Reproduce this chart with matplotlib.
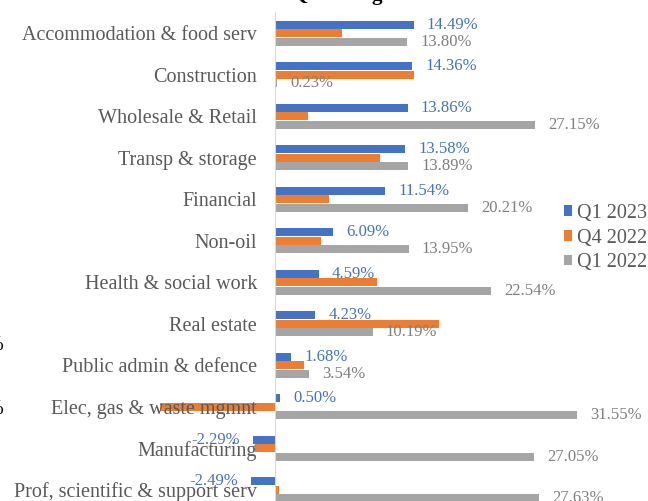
import matplotlib
matplotlib.use("Agg")
import matplotlib.pyplot as plt
import numpy as np

categories = ["Accommodation & food serv", "Construction", "Wholesale & Retail",
              "Transp & storage", "Financial", "Non-oil", "Health & social work",
              "Real estate", "Public admin & defence", "Elec, gas & waste mgmnt",
              "Manufacturing", "Prof, scientific & support serv"]
q1_2023 = [14.49, 14.36, 13.86, 13.58, 11.54, 6.09, 4.59, 4.23, 1.68, 0.50, -2.29, -2.49]
q4_2022 = [7.0, 14.5, 3.5, 11.0, 5.6, 4.8, 10.7, 17.1, 3.0, -12.0, -2.1, 0.4]
q1_2022 = [13.80, 0.23, 27.15, 13.89, 20.21, 13.95, 22.54, 10.19, 3.54, 31.55, 27.05, 27.63]
series_names = ["Q1 2023", "Q4 2022", "Q1 2022"]

plt.rcParams['font.family'] = ['Liberation Serif', 'DejaVu Serif']

W, H = 648, 501
fig = plt.figure(figsize=(W / 100, H / 100), dpi=100)
ax = fig.add_axes([0, 0, 1, 1])
ax.patch.set_alpha(0)

px_per_unit = 9.57
x0 = 275
ax.set_xlim(-x0 / px_per_unit, (W - x0) / px_per_unit)
sp = 41.5
c0 = 33.2
ax.set_ylim((H - c0) / sp, -c0 / sp)

y = np.arange(len(categories))
off = 0.205
h = 0.19
blue, orange, gray = "#4472C4", "#ED7D31", "#A5A5A5"
b1 = ax.barh(y - off, q1_2023, height=h, color=blue, label=series_names[0])
b2 = ax.barh(y, q4_2022, height=h, color=orange, label=series_names[1])
b3 = ax.barh(y + off, q1_2022, height=h, color=gray, label=series_names[2])

ax.bar_label(b1, labels=[f"{v:.2f}%" for v in q1_2023], padding=9.5,
             color=blue, fontsize=12)
ax.bar_label(b3, labels=[f"{v:.2f}%" for v in q1_2022], padding=9.5,
             color="#7F7F7F", fontsize=12)

for s in ["top", "right", "bottom"]:
    ax.spines[s].set_visible(False)
ax.spines["left"].set_position(("data", 0))
ax.spines["left"].set_color("#D9D9D9")
ax.spines["left"].set_bounds(-0.5, 11.5)
ax.set_xticks([])
ax.set_yticks(y)
ax.set_yticklabels(categories, fontsize=14.5, color="#595959")
ax.tick_params(axis="y", length=0, pad=13)

leg = fig.legend(handles=[b1, b2, b3], loc="center left",
                 bbox_to_anchor=(564 / W, 1 - 238 / H), frameon=False,
                 fontsize=14.5, handlelength=0.42, handleheight=0.42,
                 handletextpad=0.22, labelspacing=0.28, borderpad=0,
                 borderaxespad=0, labelcolor="#595959")

fig.text(292 / W, 1 + 0.5 / H, "Q1 GDP growth", fontsize=15, fontweight="bold",
         ha="left", va="baseline", color="black")
for yy in (345, 410):
    fig.text(3.5 / W, 1 - yy / H, "%", fontsize=14.5, ha="right", va="center",
             color="black")

fig.savefig("out.png", dpi=100)
